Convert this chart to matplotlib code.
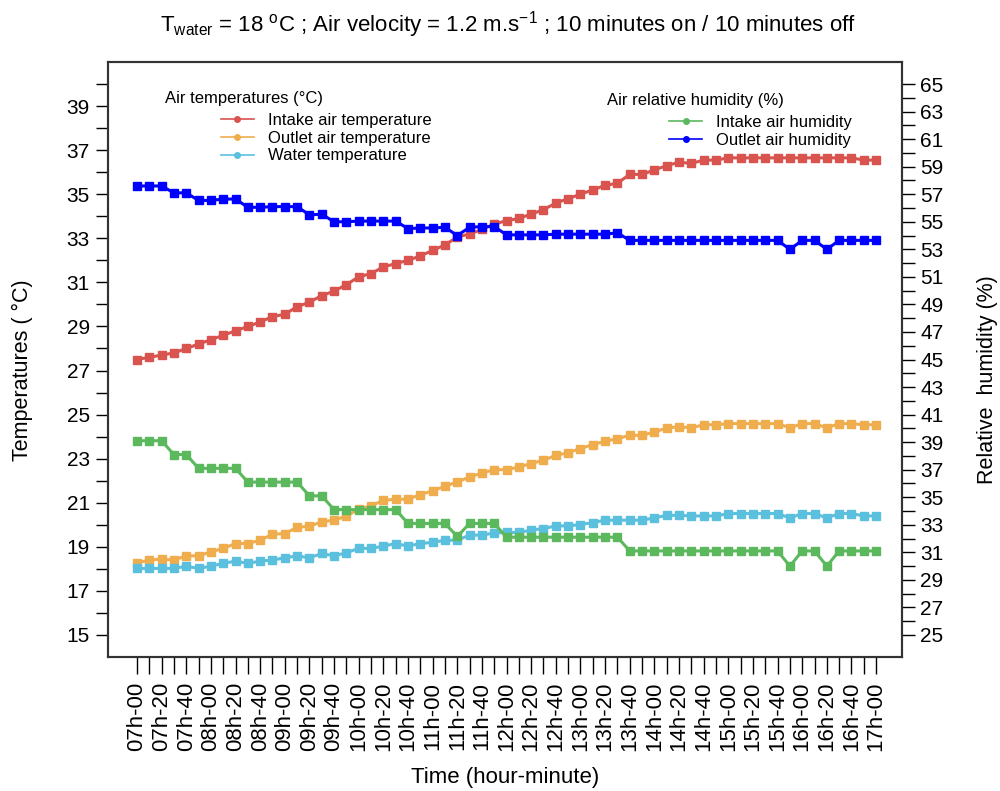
import numpy as np
import matplotlib.pyplot as plt
from matplotlib.lines import Line2D

plt.rcParams['font.family'] = ['Liberation Sans', 'DejaVu Sans']
plt.rcParams['mathtext.fontset'] = 'custom'
plt.rcParams['mathtext.rm'] = 'Liberation Sans'
plt.rcParams['mathtext.it'] = 'Liberation Sans:italic'

# time steps every 10 minutes, 07h-00 .. 17h-00
time_labels = [f"{7 + k // 6:02d}h-{(k % 6) * 10:02d}" for k in range(61)]

intake_temp = [27.5, 27.6, 27.7, 27.8, 28.0, 28.2, 28.4, 28.6, 28.8, 29.0,
               29.2, 29.45, 29.55, 29.9, 30.1, 30.4, 30.6, 30.9, 31.25, 31.4,
               31.7, 31.85, 32.0, 32.2, 32.45, 32.7, 33.05, 33.2, 33.4, 33.65,
               33.8, 33.9, 34.1, 34.3, 34.6, 34.8, 35.0, 35.2, 35.4, 35.5,
               35.9, 35.9, 36.1, 36.3, 36.45, 36.4, 36.55, 36.55, 36.65, 36.65,
               36.65, 36.65, 36.65, 36.65, 36.65, 36.65, 36.65, 36.65, 36.65, 36.55, 36.55]

outlet_temp = [18.27, 18.4, 18.44, 18.4, 18.59, 18.59, 18.77, 18.93, 19.15, 19.15,
               19.3, 19.57, 19.6, 19.88, 19.94, 20.13, 20.21, 20.39, 20.71, 20.86,
               21.11, 21.16, 21.16, 21.37, 21.54, 21.75, 21.94, 22.17, 22.35, 22.5,
               22.5, 22.62, 22.78, 22.93, 23.15, 23.27, 23.46, 23.64, 23.79, 23.91,
               24.06, 24.06, 24.21, 24.39, 24.45, 24.4, 24.54, 24.54, 24.59, 24.59,
               24.59, 24.59, 24.59, 24.4, 24.59, 24.59, 24.4, 24.59, 24.59, 24.54, 24.54]

water_temp = [18.02, 18.02, 18.02, 18.02, 18.12, 18.02, 18.12, 18.25, 18.35, 18.25,
              18.35, 18.4, 18.5, 18.59, 18.5, 18.7, 18.59, 18.73, 18.93, 18.93,
              19.03, 19.15, 19.03, 19.15, 19.2, 19.3, 19.3, 19.53, 19.53, 19.63,
              19.65, 19.65, 19.76, 19.83, 19.95, 19.95, 20.01, 20.1, 20.21, 20.21,
              20.21, 20.21, 20.31, 20.43, 20.43, 20.4, 20.4, 20.4, 20.51, 20.51,
              20.51, 20.51, 20.51, 20.31, 20.51, 20.51, 20.31, 20.51, 20.51, 20.4, 20.4]

intake_rh = [39.1, 39.1, 39.1, 38.1, 38.1, 37.1, 37.1, 37.1, 37.1, 36.1,
             36.1, 36.1, 36.1, 36.1, 35.1, 35.1, 34.1, 34.1, 34.1, 34.1,
             34.1, 34.1, 33.1, 33.1, 33.1, 33.1, 32.15, 33.1, 33.1, 33.1,
             32.1, 32.1, 32.1, 32.1, 32.1, 32.1, 32.1, 32.1, 32.1, 32.1,
             31.1, 31.1, 31.1, 31.1, 31.1, 31.1, 31.1, 31.1, 31.1, 31.1,
             31.1, 31.1, 31.1, 30.0, 31.1, 31.1, 30.0, 31.1, 31.1, 31.1, 31.1]

outlet_rh = [57.6, 57.6, 57.6, 57.1, 57.1, 56.55, 56.55, 56.65, 56.65, 56.05,
             56.05, 56.1, 56.1, 56.1, 55.5, 55.55, 55.0, 55.0, 55.05, 55.05,
             55.05, 55.05, 54.5, 54.55, 54.55, 54.6, 54.0, 54.6, 54.65, 54.65,
             54.05, 54.05, 54.05, 54.05, 54.1, 54.1, 54.1, 54.1, 54.1, 54.2,
             53.65, 53.65, 53.65, 53.65, 53.65, 53.65, 53.65, 53.65, 53.65, 53.65,
             53.65, 53.65, 53.65, 53.0, 53.65, 53.65, 53.0, 53.65, 53.65, 53.65, 53.65]

temp_names = ['Intake air temperature', 'Outlet air temperature', 'Water temperature']
rh_names = ['Intake air humidity', 'Outlet air humidity']
temp_colors = ['#d9534f', '#f0ad4e', '#5bc0de']
rh_colors = ['#5cb85c', '#0000ff']

temp_ticks = np.arange(15, 41)
rh_ticks = np.arange(25, 66)

fig = plt.figure(figsize=(10, 7.91), dpi=100)
ax = fig.add_axes([0.108, 0.1694, 0.794, 0.7522])
ax2 = ax.twinx()
x = np.arange(len(time_labels))

for ys, c in zip([intake_temp, outlet_temp, water_temp], temp_colors):
    ax.plot(x, ys, color=c, lw=2.2, marker='s', ms=5.5, zorder=3)
for ys, c in zip([intake_rh, outlet_rh], rh_colors):
    ax2.plot(x, ys, color=c, lw=2.2, marker='s', ms=5.5, zorder=3)

ax.set_xlim(-2.35, 62.1)
ax.set_ylim(14, 41)
ax2.set_ylim(23.4, 66.6)

ax.set_xticks(x)
ax.set_xticklabels([lab if k % 2 == 0 else '' for k, lab in enumerate(time_labels)],
                   rotation=90, fontsize=16)
ax.tick_params(axis='x', length=12, pad=6, width=1)

ax.set_yticks(temp_ticks)
ax.set_yticklabels([str(v) if v % 2 else '' for v in temp_ticks], fontsize=15)
ax.tick_params(axis='y', length=9, pad=4, width=1)
ax2.set_yticks(rh_ticks)
ax2.set_yticklabels([str(v) if v % 2 else '' for v in rh_ticks], fontsize=15)
ax2.tick_params(axis='y', length=9, pad=4, width=1)

for a in (ax, ax2):
    for s in a.spines.values():
        s.set_linewidth(1.5)
        s.set_color('#333333')

fig.text(0.508, 1 - 25 / 791,
         r"T$_{\mathrm{water}}$ = 18 $^{\mathrm{o}}$C ; Air velocity = 1.2 m.s$^{-1}$ ; 10 minutes on / 10 minutes off",
         ha='center', va='center', fontsize=16)
fig.text(0.022, 1 - 370 / 791, 'Temperatures ( °C)', rotation=90, ha='center', va='center', fontsize=15.5)
fig.text(0.988, 1 - 380 / 791, 'Relative  humidity (%)', rotation=90, ha='center', va='center', fontsize=15.5)
fig.text(0.505, 1 - 778 / 791, 'Time (hour-minute)', ha='center', va='center', fontsize=16)

# legends
fig.text(0.165, 1 - 98 / 791, 'Air temperatures (°C)', ha='left', va='center', fontsize=12)
h1 = [Line2D([], [], color=c, lw=1.2, marker='o', ms=4) for c in temp_colors]
fig.legend(h1, temp_names, loc='upper left', bbox_to_anchor=(0.221, 1 - 113 / 791),
           frameon=False, fontsize=12, handlelength=1.95, handletextpad=0.85,
           labelspacing=0.16, borderpad=0, borderaxespad=0)
fig.text(0.607, 1 - 101 / 791, 'Air relative humidity (%)', ha='left', va='center', fontsize=12)
h2 = [Line2D([], [], color=c, lw=1.2, marker='o', ms=4) for c in rh_colors]
fig.legend(h2, rh_names, loc='upper left', bbox_to_anchor=(0.669, 1 - 115 / 791),
           frameon=False, fontsize=12, handlelength=2.0, handletextpad=0.85,
           labelspacing=0.16, borderpad=0, borderaxespad=0)

fig.savefig('out.png', dpi=100)
